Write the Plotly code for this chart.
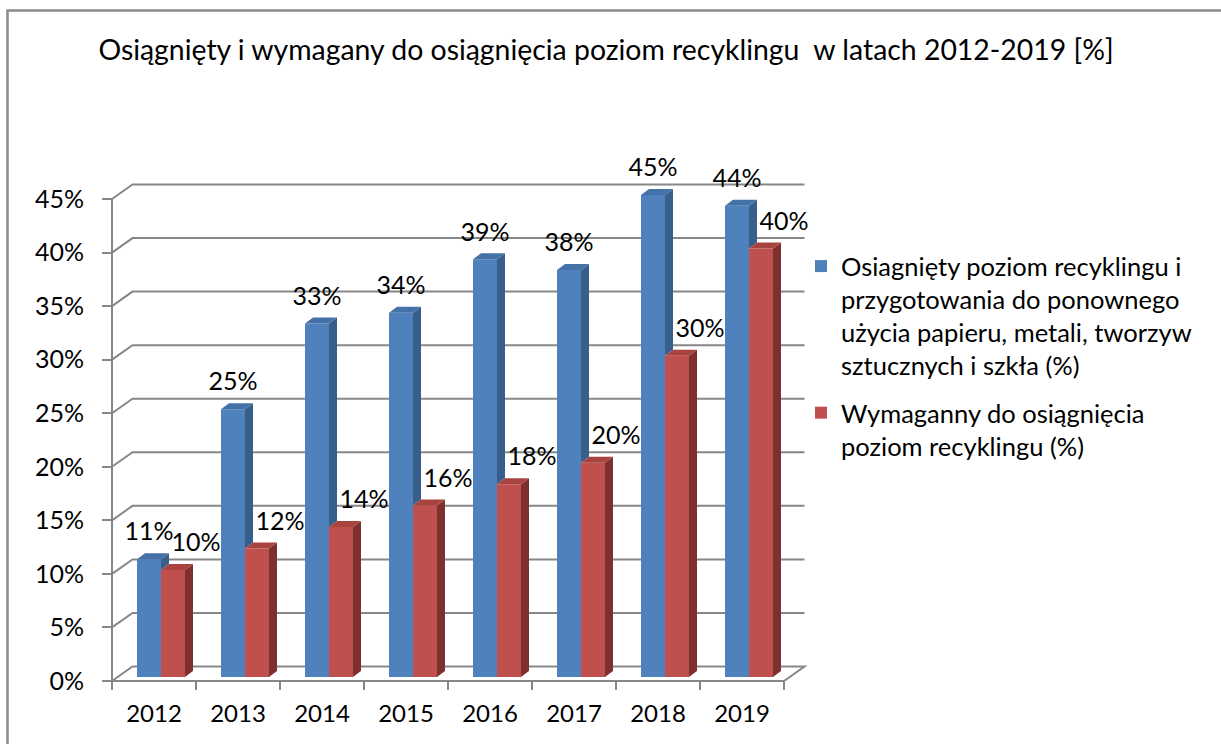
import plotly.graph_objects as go

# ---------------- data ----------------
years = ["2012", "2013", "2014", "2015", "2016", "2017", "2018", "2019"]
achieved = [11, 25, 33, 34, 39, 38, 45, 44]
required = [10, 12, 14, 16, 18, 20, 30, 40]
y_ticks = [0, 5, 10, 15, 20, 25, 30, 35, 40, 45]
series_names = [
    "Osiagnięty poziom recyklingu i<br>przygotowania do ponownego<br>użycia papieru, metali, tworzyw<br>sztucznych i szkła (%)",
    "Wymaganny do osiągnięcia<br>poziom recyklingu (%)",
]
title_text = "Osiągnięty i wymagany do osiągnięcia poziom recyklingu  w latach 2012-2019 [%]"

# ---------------- styling / geometry ----------------
W, H = 1221, 744
FONT = "Lato, Carlito, Calibri, sans-serif"
GRID = "#878787"
BLACK = "#000000"

PL, PR, PT, PB = 104, 816, 150, 686       # plot area in px
X0PX, Y0PX = 112, 681                      # px of x=-0.5 and y=0 (front axes)
CAT_PX = 84.0
YPX = 482.0 / 45.0

xmin = -0.5 - (X0PX - PL) / CAT_PX
xmax = -0.5 + (PR - X0PX) / CAT_PX
ymin = -(PB - Y0PX) / YPX
ymax = (Y0PX - PT) / YPX

def px_x(dpx):
    return dpx / CAT_PX

def px_y(dpx):
    return dpx / YPX

DXW, DYW = px_x(20.5), px_y(14.5)          # wall depth
BW = px_x(24)
OFF = [-0.5 + px_x(37), -0.5 + px_x(61)]
BASE = px_y(4)
DX, DY = px_x(8), px_y(6)

FRONT = ["#4F81BD", "#C0504D"]
SIDE = ["#385E8C", "#7E302E"]
TOP = ["#4471A8", "#A9433F"]

n = len(years)
idx = list(range(n))
vals = [achieved, required]

fig = go.Figure()

for s in range(2):
    xs = [i + OFF[s] for i in idx]
    fig.add_trace(go.Bar(
        x=xs, y=vals[s], base=BASE, width=BW, name=series_names[s],
        marker=dict(color=FRONT[s], line=dict(width=0)),
        legendgroup=f"g{s}", hoverinfo="skip",
    ))

for s in range(2):
    side_x, side_y, top_x, top_y = [], [], [], []
    for i in idx:
        x0 = i + OFF[s] - BW / 2
        x1 = i + OFF[s] + BW / 2
        t = BASE + vals[s][i]
        lo = BASE
        if s == 0:
            lo = BASE + min(vals[1][i], vals[0][i])
        side_x += [x1, x1 + DX, x1 + DX, x1, x1, None]
        side_y += [lo, lo + DY, t + DY, t, lo, None]
        top_x += [x0, x0 + DX, x1 + DX, x1, x0, None]
        top_y += [t, t + DY, t + DY, t, t, None]
    fig.add_trace(go.Scatter(x=side_x, y=side_y, mode="lines", fill="toself",
                             fillcolor=SIDE[s], line=dict(width=0, color=SIDE[s]),
                             showlegend=False, hoverinfo="skip"))
    fig.add_trace(go.Scatter(x=top_x, y=top_y, mode="lines", fill="toself",
                             fillcolor=TOP[s], line=dict(width=0, color=TOP[s]),
                             showlegend=False, hoverinfo="skip"))

# data labels
LBL_DX = [0.0, px_x(23)]
for s in range(2):
    fig.add_trace(go.Scatter(
        x=[i + OFF[s] + LBL_DX[s] for i in idx],
        y=[BASE + v + px_y(25) for v in vals[s]],
        text=[f"{v}%" for v in vals[s]], mode="text",
        textposition="middle center",
        textfont=dict(family=FONT, size=25, color=BLACK),
        cliponaxis=False, showlegend=False, hoverinfo="skip",
    ))

# dummy trace for the boundary-tick axis
fig.add_trace(go.Scatter(x=[None], y=[None], xaxis="x2", showlegend=False, hoverinfo="skip"))

# walls, floor and gridlines
shapes = []
for v in y_ticks[1:]:
    shapes.append(dict(type="path", xref="x", yref="y", layer="below",
                       path=f"M{-0.5},{v} L{-0.5 + DXW},{v + DYW} L{n - 0.5 + DXW},{v + DYW}",
                       line=dict(color=GRID, width=2)))
shapes.append(dict(type="path", xref="x", yref="y", layer="below",
                   path=f"M{-0.5},0 L{-0.5 + DXW},{DYW} L{n - 0.5 + DXW},{DYW} L{n - 0.5},0 Z",
                   line=dict(color=GRID, width=2)))
shapes.append(dict(type="line", xref="x", yref="y", layer="below",
                   x0=-0.5, x1=-0.5, y0=0, y1=y_ticks[-1],
                   line=dict(color=GRID, width=2)))
# outer chart border
shapes.append(dict(type="rect", xref="paper", yref="paper",
                   x0=(7.5 - PL) / (PR - PL), x1=(1240 - PL) / (PR - PL),
                   y0=(PB - 760) / (PB - PT), y1=(PB - 10.5) / (PB - PT),
                   line=dict(color="#8A8A8A", width=2.5), fillcolor="rgba(0,0,0,0)"))

ypos_x = (0 - ymin) / (ymax - ymin)
xpos_y = (-0.5 - xmin) / (xmax - xmin)

fig.update_layout(
    width=W, height=H,
    margin=dict(l=PL, r=W - PR, t=PT, b=H - PB, autoexpand=False),
    paper_bgcolor="white", plot_bgcolor="white",
    barmode="overlay",
    font=dict(family=FONT, size=25, color=BLACK),
    title=dict(text=title_text, x=606 / W, xanchor="center", xref="container",
               y=1 - 50 / H, yanchor="middle", yref="container",
               font=dict(family=FONT, size=28.4, color=BLACK)),
    xaxis=dict(range=[xmin, xmax], tickvals=idx, ticktext=years, ticks="",
               showgrid=False, zeroline=False, showline=False,
               anchor="free", position=ypos_x, ticklabelstandoff=16,
               tickfont=dict(family=FONT, size=24, color=BLACK)),
    xaxis2=dict(range=[xmin, xmax], overlaying="x", tickvals=[i - 0.5 for i in range(n + 1)],
                showticklabels=False, ticks="outside", ticklen=8, tickwidth=2, tickcolor=GRID,
                showgrid=False, zeroline=False, showline=False,
                anchor="free", position=ypos_x),
    yaxis=dict(range=[ymin, ymax], tickvals=y_ticks, ticktext=[f"{v}%" for v in y_ticks],
               ticks="outside", ticklen=10, tickwidth=2, tickcolor=GRID,
               showgrid=False, zeroline=False, showline=False,
               anchor="free", position=xpos_y, ticklabelstandoff=13,
               tickfont=dict(family=FONT, size=25, color=BLACK)),
    legend=dict(x=(801 - PL) / (PR - PL), y=(PB - 243) / (PB - PT),
                xanchor="left", yanchor="top", valign="top",
                tracegroupgap=11, bgcolor="rgba(0,0,0,0)",
                font=dict(family=FONT, size=25.5, color=BLACK)),
    shapes=shapes,
    showlegend=True,
)

fig.write_html("out.html", config={"displayModeBar": False},
               post_script="document.body.style.margin='0';")
